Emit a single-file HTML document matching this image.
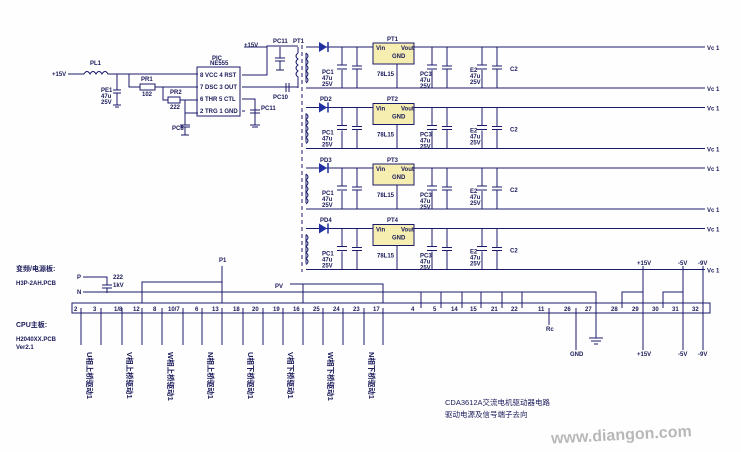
<!DOCTYPE html>
<html><head><meta charset="utf-8"><style>
html,body{margin:0;padding:0;background:#fefefe;}
svg{display:block;}
text{font-family:"Liberation Sans","Noto Sans CJK SC",sans-serif;font-weight:bold;fill:#1a1a5a;font-size:6px;}
text.v{font-size:7.5px;}
.l{stroke:#1a1a6a;stroke-width:1;fill:none;}
</style></head><body>
<svg width="741" height="452" viewBox="0 0 741 452" xmlns="http://www.w3.org/2000/svg">
<defs>
<g id="ch">
  <path class="l" d="M306 47 H373 M306 88 H705 M414 47 H705 M397 64 V88"/>
  <polygon points="319,42 319,52 327,47" fill="#2030a0"/><line x1="328" y1="42" x2="328" y2="52" stroke="#2030a0" stroke-width="1.5"/>
  <rect x="373" y="43" width="41" height="21" fill="#f6eeb0" stroke="#1a1a6a"/>
  <path class="l" d="M342 47 V65 M342 70 V88 M337 65 H347 M337 69 H347 M357 47 V66 M357 69 V88 M352 66 H362 M352 69 H362
  M432 47 V65 M432 70 V88 M427 65 H437 M427 69 H437 M447 47 V66 M447 69 V88 M442 66 H452 M442 69 H452
  M482 47 V65 M482 70 V88 M477 65 H487 M477 69 H487 M497 47 V66 M497 69 V88 M492 66 H502 M492 69 H502"/>
  <path class="l" d="M306 53 V82 M306 53 q4 3 0 6 q4 3 0 6 q4 3 0 6 q4 3 0 6 q4 3 0 6"/>
</g>
</defs>
<text x="52" y="76">+15V</text>
<path class="l" d="M68 74 H84 M84 74 q3 -5 6 0 q3 -5 6 0 q3 -5 6 0 q3 -5 6 0 H198 M117 74 V90 M113 90 H121 M113 93 H121 M117 93 V105 M113 105 H121 M115 107 H119"/>
<text x="90" y="65">PL1</text><text x="101" y="92">PE1</text><text x="101" y="98">47u</text><text x="101" y="104">25V</text>
<path class="l" d="M129 74 V87 H140 M155 87 H198 M163 87 V100 H168 M180 100 H198 M185 100 V113 H198 M185 113 V125 M180 125 H190 M180 127 H190 M185 127 V135 M181 135 H189"/>
<rect x="140" y="84" width="15" height="6" class="l"/><rect x="168" y="97" width="12" height="6" class="l"/>
<text x="141" y="81">PR1</text><text x="142" y="96">102</text><text x="170" y="94">PR2</text><text x="170" y="109">222</text><text x="172" y="130">PC8</text>
<rect x="197" y="67" width="43" height="49" class="l"/>
<text x="212" y="60">PIC</text><text x="210" y="65">NE555</text>
<g style="font-size:5px"><text x="200" y="77">8 VCC  4 RST</text><text x="200" y="89">7 DSC  3 OUT</text><text x="200" y="101">6 THR  5 CTL</text><text x="200" y="113">2 TRG  1 GND</text></g>
<path class="l" d="M242 75 H267 V46 H298 M244 47 H267 M242 87 H298 M242 99 H255 V125 M250 110 H260 M250 113 H260 M250 125 H260 M252 127 H258 M242 111 H245 M280 47 V58 M275 58 H285 M275 61 H285 M280 61 V70 M276 70 H284"/>
<line x1="286" y1="83" x2="286" y2="92" class="l"/><line x1="289" y1="83" x2="289" y2="92" class="l"/>
<text x="244" y="47">+15V</text><text x="273" y="43">PC11</text><text x="293" y="43">PT1</text><text x="273" y="99">PC10</text><text x="261" y="110">PC11</text>
<path class="l" d="M298 47 V53 M298 53 q-4 3 0 6 q-4 3 0 6 q-4 3 0 6 q-4 3 0 6 V88"/>
<line x1="302" y1="45" x2="302" y2="272" stroke="#1a1a6a" stroke-dasharray="4 3"/>
<use href="#ch"/><use href="#ch" y="60.5"/><use href="#ch" y="121"/><use href="#ch" y="181.5"/>
<text x="387" y="41">PT1</text><text x="387" y="101">PT2</text><text x="387" y="162">PT3</text><text x="387" y="222">PT4</text>
<text x="320" y="101">PD2</text><text x="320" y="162">PD3</text><text x="320" y="222">PD4</text>
<g id="lbl" style="font-size:5px"><text x="322" y="74">PC1</text><text x="322" y="80">47u</text><text x="322" y="86">25V</text>
<text x="376" y="50">Vin</text><text x="401" y="50">Vout</text><text x="392" y="58">GND</text><text x="377" y="76">78L15</text>
<text x="420" y="76">PC3</text><text x="420" y="82">47u</text><text x="420" y="88">25V</text>
<text x="470" y="72">E2</text><text x="470" y="78">47u</text><text x="470" y="84">25V</text><text x="510" y="71">C2</text>
<text x="707" y="50">Vc 1</text><text x="707" y="91">Vc 1</text></g>
<use href="#lbl" y="60.5"/><use href="#lbl" y="121"/><use href="#lbl" y="181.5"/>
<text x="16" y="271" style="font-size:7px">变频/电源板:</text><text x="16" y="285">H3P-2AH.PCB</text>
<text x="16" y="327" style="font-size:7px">CPU主板:</text><text x="16" y="341">H2040XX.PCB</text><text x="16" y="349">Ver2.1</text>
<text x="77" y="279">P</text><text x="77" y="294">N</text><text x="113" y="279">222</text><text x="113" y="287">1kV</text>
<path class="l" d="M83 277 H107 V285 M102 285 H112 M102 288 H112 M107 288 V293 M83 292 H596 V338 M589 338 H603 M591 341 H601 M594 344 H598 M142 303 V282 H222 M222 266 V303 M290 284 H383 V303 M303 284 V303"/>
<text x="219" y="262">P1</text><text x="275" y="288">PV</text>
<rect x="72" y="303" width="638" height="10" class="l"/>
<text x="74" y="311">2</text><text x="93" y="311">3</text><text x="114" y="311">1/8</text><text x="133" y="311">12</text><text x="153" y="311">8</text><text x="168" y="311">10/7</text><text x="195" y="311">6</text><text x="212" y="311">13</text><text x="233" y="311">18</text><text x="252" y="311">20</text><text x="273" y="311">19</text><text x="293" y="311">16</text><text x="313" y="311">25</text><text x="333" y="311">24</text><text x="353" y="311">23</text><text x="373" y="311">17</text>
<text x="411" y="311">4</text><text x="433" y="311">5</text><text x="451" y="311">14</text><text x="470" y="311">15</text><text x="491" y="311">21</text><text x="511" y="311">22</text><text x="538" y="311">11</text><text x="564" y="311">26</text><text x="585" y="311">27</text><text x="611" y="311">28</text><text x="632" y="311">29</text><text x="652" y="311">30</text><text x="672" y="311">31</text><text x="692" y="311">32</text>
<path class="l" d="M81 308 V345 M101 308 V345 M122 308 V345 M142 308 V345 M162 308 V345 M183 308 V345 M202 308 V345 M222 308 V345 M243 308 V345 M263 308 V345 M283 308 V345 M303 308 V345 M323 308 V345 M343 308 V345 M364 308 V345 M383 308 V345
M421 292 V308 M441 292 V308 M462 292 V308 M481 292 V308 M502 292 V308 M522 292 V308 M549 308 V325 M576 308 V350
M622 308 V292 H643 M643 266 V350 M663 308 V292 H683 M683 266 V350 M703 266 V350"/>
<text x="546" y="331">Rc</text><text x="570" y="356">GND</text>
<text x="637" y="265">+15V</text><text x="678" y="265">-5V</text><text x="698" y="265">-9V</text>
<text x="637" y="356">+15V</text><text x="678" y="356">-5V</text><text x="698" y="356">-9V</text>
<text class="v" transform="translate(87,352) rotate(90)">U相上桥驱动1</text>
<text class="v" transform="translate(127,352) rotate(90)">V相上桥驱动1</text>
<text class="v" transform="translate(168,352) rotate(90)">W相上桥驱动1</text>
<text class="v" transform="translate(208,352) rotate(90)">N相上桥驱动1</text>
<text class="v" transform="translate(248,352) rotate(90)">U相下桥驱动1</text>
<text class="v" transform="translate(288,352) rotate(90)">V相下桥驱动1</text>
<text class="v" transform="translate(328,352) rotate(90)">W相下桥驱动1</text>
<text class="v" transform="translate(369,352) rotate(90)">N相下桥驱动1</text>
<text x="445" y="405" style="font-size:7.5px;font-weight:normal">CDA3612A交流电机驱动器电路</text>
<text x="445" y="417" style="font-size:7.5px;font-weight:normal">驱动电源及信号端子去向</text>
<text x="551" y="440" style="font-size:16px;fill:#b8b8b8" transform="rotate(-3 620 435)">www.diangon.com</text>
</svg>
</body></html>
